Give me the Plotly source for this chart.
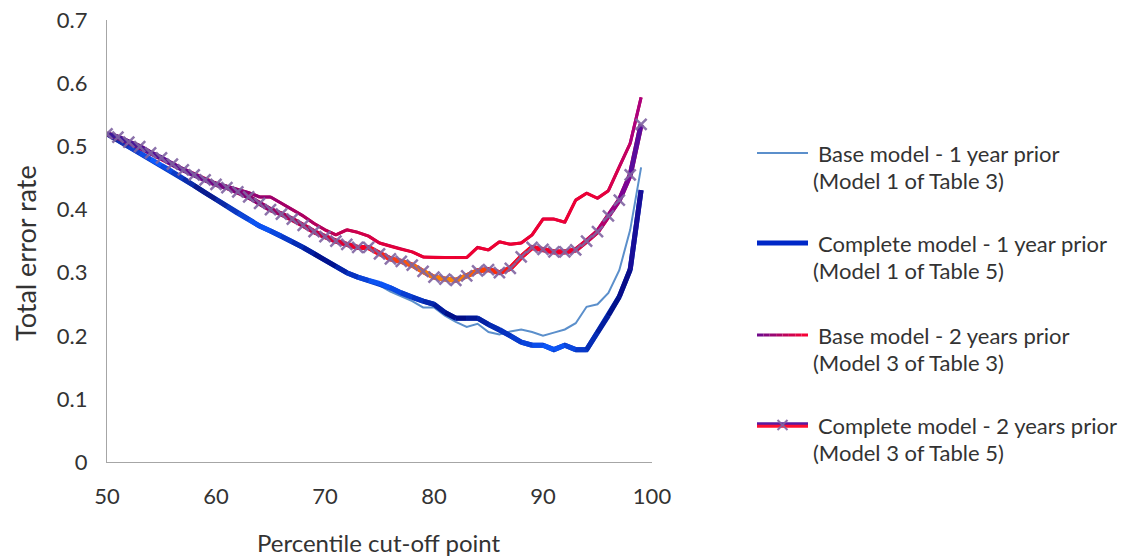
import plotly.graph_objects as go

# ---------------- data ----------------
pct = list(range(50, 100))

base_1yr = [0.52, 0.51, 0.50, 0.49, 0.48, 0.47, 0.46, 0.449, 0.438, 0.427,
            0.416, 0.406, 0.395, 0.385, 0.375, 0.366, 0.358, 0.35, 0.341, 0.33,
            0.32, 0.31, 0.30, 0.293, 0.287, 0.28, 0.27, 0.262, 0.255, 0.245,
            0.245, 0.232, 0.222, 0.214, 0.219, 0.206, 0.202, 0.207, 0.21, 0.206,
            0.20, 0.205, 0.21, 0.22, 0.246, 0.25, 0.268, 0.304, 0.368, 0.467]

complete_1yr = [0.52, 0.51, 0.50, 0.49, 0.48, 0.47, 0.46, 0.449, 0.438, 0.427,
                0.416, 0.405, 0.394, 0.384, 0.374, 0.366, 0.358, 0.349, 0.34, 0.33,
                0.32, 0.31, 0.30, 0.293, 0.288, 0.283, 0.276, 0.268, 0.261, 0.255,
                0.25, 0.237, 0.228, 0.228, 0.228, 0.218, 0.21, 0.20, 0.19, 0.185,
                0.185, 0.178, 0.185, 0.178, 0.178, 0.205, 0.232, 0.262, 0.305, 0.431]

base_2yr = [0.52, 0.513, 0.505, 0.497, 0.489, 0.48, 0.472, 0.463, 0.455, 0.448,
            0.442, 0.437, 0.432, 0.427, 0.42, 0.42, 0.41, 0.40, 0.39, 0.378,
            0.368, 0.36, 0.368, 0.364, 0.358, 0.347, 0.342, 0.337, 0.333, 0.325,
            0.324, 0.324, 0.324, 0.324, 0.34, 0.336, 0.349, 0.345, 0.347, 0.36,
            0.385, 0.385, 0.38, 0.415, 0.426, 0.418, 0.43, 0.468, 0.505, 0.578]

complete_2yr = [0.52, 0.515, 0.507, 0.50, 0.49, 0.482, 0.472, 0.463, 0.455, 0.447,
                0.44, 0.435, 0.428, 0.42, 0.41, 0.40, 0.393, 0.385, 0.375, 0.365,
                0.357, 0.35, 0.345, 0.34, 0.34, 0.33, 0.322, 0.318, 0.312, 0.302,
                0.293, 0.29, 0.288, 0.295, 0.303, 0.305, 0.30, 0.307, 0.325, 0.34,
                0.337, 0.333, 0.333, 0.336, 0.35, 0.365, 0.39, 0.415, 0.455, 0.535]

x_ticks = [50, 60, 70, 80, 90, 100]
y_ticks = [0, 0.1, 0.2, 0.3, 0.4, 0.5, 0.6, 0.7]
y_tick_text = ["0", "0.1", "0.2", "0.3", "0.4", "0.5", "0.6", "0.7"]

legend_labels = [
    ("Base model - 1 year prior", "(Model 1 of Table 3)"),
    ("Complete model - 1 year prior", "(Model 1 of Table 5)"),
    ("Base model - 2 years prior", "(Model 3 of Table 3)"),
    ("Complete model - 2 years prior", "(Model 3 of Table 5)"),
]

# ---------------- styles ----------------
FONT = "Lato"
TXT = "#333333"
AXIS = "#A6A6A6"
TICK_SIZE = 22
LEG_SIZE = 22
XTITLE_SIZE = 24
YTITLE_SIZE = 27

grad_c1 = [(50, "#1c1c8c"), (54.5, "#0d5bff"), (59, "#0a1480"), (64, "#0d5bff"),
           (70, "#000a80"), (75, "#0d5bff"), (82, "#000a80"), (91, "#0d5bff"),
           (97, "#000a80"), (99, "#2010a0")]
grad_b2 = [(50, "#5a0a8a"), (60, "#7a0a80"), (65, "#990070"), (70, "#b8005a"),
           (75, "#dd0040"), (80, "#ee0030"), (95, "#ee0035"), (97, "#d00055"),
           (99, "#a0008a")]
grad_c2 = [(50, "#3a1a9a"), (58, "#6a0a90"), (64, "#8a0070"), (70, "#cc0040"),
           (74, "#ff0020"), (79, "#ff7a00"), (82, "#ff8800"), (85, "#ff3300"),
           (88, "#ff0020"), (93, "#ee0030"), (95, "#c00060"), (97, "#8a0090"),
           (99, "#4a10a0")]


def hex2rgb(h):
    h = h.lstrip("#")
    return tuple(int(h[i:i + 2], 16) for i in (0, 2, 4))


def grad_color(stops, v):
    if v <= stops[0][0]:
        return stops[0][1]
    for (a, ca), (b, cb) in zip(stops[:-1], stops[1:]):
        if a <= v <= b:
            t = (v - a) / (b - a)
            r1, g1, b1 = hex2rgb(ca)
            r2, g2, b2 = hex2rgb(cb)
            return "rgb(%d,%d,%d)" % (round(r1 + (r2 - r1) * t),
                                      round(g1 + (g2 - g1) * t),
                                      round(b1 + (b2 - b1) * t))
    return stops[-1][1]


fig = go.Figure()


def add_gradient_line(xs, ys, stops, width, base_color):
    fig.add_trace(go.Scatter(x=xs, y=ys, mode="lines", showlegend=False,
                             line=dict(color=base_color, width=width),
                             hoverinfo="skip"))
    for i in range(len(xs) - 1):
        c = grad_color(stops, (xs[i] + xs[i + 1]) / 2)
        fig.add_trace(go.Scatter(x=xs[i:i + 2], y=ys[i:i + 2], mode="lines",
                                 showlegend=False, line=dict(color=c, width=width),
                                 hoverinfo="skip"))


fig.add_trace(go.Scatter(x=pct, y=base_1yr, mode="lines", showlegend=False,
                         line=dict(color="#5B8FCB", width=2)))
add_gradient_line(pct, complete_1yr, grad_c1, 5, "#0a3ac0")
add_gradient_line(pct, base_2yr, grad_b2, 3, "#c00050")
add_gradient_line(pct, complete_2yr, grad_c2, 5, "#dd0040")
fig.add_trace(go.Scatter(x=pct, y=complete_2yr, mode="markers", showlegend=False,
                         marker=dict(symbol="x-thin", size=11,
                                     line=dict(width=2.5, color="rgba(128,100,162,0.9)"))))

# ---------------- layout (screen pixels; body margin removed below) ----------------
W, H = 1126, 559
L, T = 107, 20
R = W - 652
B = H - 462
PW, PH = W - L - R, H - T - B


def px(xs):
    return (xs - L) / PW


def py(ys):
    return (H - B - ys) / PH


shapes = []
annotations = []

# legend
leg_y = [153, 243, 335, 425]
x0, x1 = 757, 808
shapes.append(dict(type="line", xref="paper", yref="paper", x0=px(x0), x1=px(x1),
                   y0=py(leg_y[0]), y1=py(leg_y[0]), line=dict(color="#5B8FCB", width=2)))
shapes.append(dict(type="line", xref="paper", yref="paper", x0=px(x0), x1=px(x1),
                   y0=py(leg_y[1]), y1=py(leg_y[1]), line=dict(color="#0028c8", width=5)))
nseg = 8
for k in range(nseg):
    a = x0 + (x1 - x0) * k / nseg
    b = x0 + (x1 - x0) * (k + 1) / nseg
    c = grad_color([(0, "#6a0a90"), (1, "#ff0030")], (k + 0.5) / nseg)
    shapes.append(dict(type="line", xref="paper", yref="paper", x0=px(a), x1=px(b),
                       y0=py(leg_y[2]), y1=py(leg_y[2]), line=dict(color=c, width=3)))
shapes.append(dict(type="line", xref="paper", yref="paper", x0=px(x0), x1=px(x1),
                   y0=py(leg_y[3] - 1.3), y1=py(leg_y[3] - 1.3), line=dict(color="#5a1aa0", width=3)))
shapes.append(dict(type="line", xref="paper", yref="paper", x0=px(x0), x1=px(x1),
                   y0=py(leg_y[3] + 1.3), y1=py(leg_y[3] + 1.3), line=dict(color="#ff1030", width=3)))
mx = (x0 + x1) / 2
for dy in (-1, 1):
    shapes.append(dict(type="line", xref="paper", yref="paper",
                       x0=px(mx - 5), x1=px(mx + 5), y0=py(leg_y[3] - 5 * dy), y1=py(leg_y[3] + 5 * dy),
                       line=dict(color="rgba(128,100,162,0.9)", width=2)))

for yy, (l1, l2) in zip(leg_y, legend_labels):
    annotations.append(dict(text=l1, xref="paper", yref="paper", x=px(816), y=py(yy),
                            xanchor="left", yanchor="middle", showarrow=False,
                            font=dict(family=FONT, size=LEG_SIZE, color=TXT)))
    annotations.append(dict(text=l2, xref="paper", yref="paper", x=px(811), y=py(yy + 27),
                            xanchor="left", yanchor="middle", showarrow=False,
                            font=dict(family=FONT, size=LEG_SIZE, color=TXT)))

# axis titles
annotations.append(dict(text="Total error rate", xref="paper", yref="paper",
                        x=px(25), y=py(253), textangle=-90, xanchor="center", yanchor="middle",
                        showarrow=False, font=dict(family=FONT, size=YTITLE_SIZE, color=TXT)))
annotations.append(dict(text="Percentile cut-off point", xref="paper", yref="paper",
                        x=px(379), y=py(542), xanchor="center", yanchor="middle",
                        showarrow=False, font=dict(family=FONT, size=XTITLE_SIZE, color=TXT)))

fig.update_layout(
    width=W, height=H,
    margin=dict(l=L, r=R, t=T, b=B, autoexpand=False),
    paper_bgcolor="white", plot_bgcolor="white",
    showlegend=False,
    shapes=shapes, annotations=annotations,
    font=dict(family=FONT, size=TICK_SIZE, color=TXT),
)
fig.update_xaxes(range=[50, 100], tickvals=x_ticks, showgrid=False,
                 zeroline=False, showline=True, linecolor=AXIS, linewidth=1.3,
                 ticks="", ticklabelstandoff=14, automargin=False,
                 ticklabeloverflow="allow",
                 tickfont=dict(family=FONT, size=TICK_SIZE, color=TXT))
fig.update_yaxes(range=[0, 0.7005], tickvals=y_ticks, ticktext=y_tick_text,
                 showgrid=False, zeroline=False, showline=True, linecolor=AXIS, linewidth=1.3,
                 ticks="", ticklabelstandoff=14, automargin=False,
                 ticklabeloverflow="allow",
                 tickfont=dict(family=FONT, size=TICK_SIZE, color=TXT))

fig.write_html("out.html",
               config={"displayModeBar": False},
               post_script="document.body.style.margin='0';document.body.style.overflow='hidden';")
